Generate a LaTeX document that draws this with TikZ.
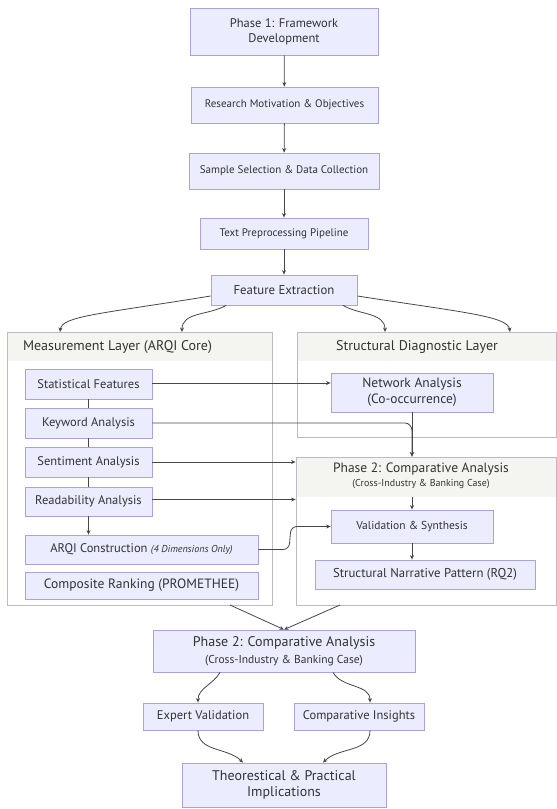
\documentclass[tikz,border=0pt]{standalone}
\usepackage{fontspec}
\setmainfont{PT Sans}
\usepackage{tikz}
\usetikzlibrary{arrows.meta,positioning}
\definecolor{mmfill}{RGB}{236,236,255}
\definecolor{mmline}{RGB}{172,160,222}
\definecolor{mmlayer}{RGB}{188,184,206}
\definecolor{mmhead}{RGB}{244,244,240}
\definecolor{mmedge}{RGB}{70,70,70}
\definecolor{mmtext}{RGB}{51,51,51}
\tikzstyle{arrow} = [line width=0.8pt,-{Stealth[length=4.5pt,width=4pt]},color=mmedge]
\tikzstyle{link} = [line width=0.8pt,color=mmedge]
\tikzstyle{flowbox} = [rectangle, draw=mmline, fill=mmfill, line width=0.8pt, text=mmtext, align=center, inner sep=0pt, font=\fontsize{12.5}{15}\selectfont]
\tikzstyle{layer} = [rectangle, draw=mmlayer, line width=0.8pt, inner sep=0pt]
\tikzstyle{layerhead} = [rectangle, fill=mmhead, inner sep=0pt]
\tikzstyle{layertitle} = [text=mmtext, inner sep=0pt, align=center, font=\fontsize{14}{16}\selectfont]

\begin{document}
\begin{tikzpicture}[x=1pt, y=-1pt]
    \useasboundingbox (0,0) rectangle (557,809);

    % Phase 1 chain
    \node[flowbox, minimum width=188pt, minimum height=47pt, font=\fontsize{12.5}{15}\selectfont] (p1) at (284,31.5) {Phase 1: Framework\\Development};
    \node[flowbox, minimum width=187pt, minimum height=36pt, font=\fontsize{11}{13}\selectfont] (rmo) at (284.5,105) {Research Motivation \& Objectives};
    \node[flowbox, minimum width=190pt, minimum height=36pt, font=\fontsize{11}{13}\selectfont] (ssdc) at (284,171) {Sample Selection \& Data Collection};
    \node[flowbox, minimum width=168pt, minimum height=31pt, font=\fontsize{11}{13}\selectfont] (tpp) at (284,233.5) {Text Preprocessing Pipeline};
    \node[flowbox, minimum width=146pt, minimum height=30pt, font=\fontsize{12.8}{15}\selectfont] (fe) at (284,290) {Feature Extraction};

    \draw[arrow] (p1) -- (rmo);
    \draw[arrow] (rmo) -- (ssdc);
    \draw[arrow] (ssdc) -- (tpp);
    \draw[arrow] (tpp) -- (fe);

    % Layers
    \node[layerhead, minimum width=265pt, minimum height=29pt] (meashead) at (139.5,346.5) {};
    \node[layer, minimum width=265pt, minimum height=273pt] (meas) at (139.5,468.5) {};
    \node[layertitle] (meastitle) at (117.5,347) {Measurement Layer (ARQI Core)};

    \node[layerhead, minimum width=259pt, minimum height=29pt] (structhead) at (426.5,346.5) {};
    \node[layer, minimum width=259pt, minimum height=105pt] (struct) at (426.5,384.5) {};
    \node[layertitle] (structtitle) at (417,347) {Structural Diagnostic Layer};

    \node[layerhead, minimum width=260pt, minimum height=40pt] (p2chead) at (426,477) {};
    \node[layer, minimum width=260pt, minimum height=148pt] (p2c) at (426,531) {};
    \node[layertitle, font=\fontsize{13.5}{15}\selectfont] (p2ctitle) at (421,476) {Phase 2: Comparative Analysis\\[-1pt]{\fontsize{10}{11}\selectfont (Cross-Industry \& Banking Case)}};

    % Feature extraction fan out
    \coordinate (m1) at (60,332);
    \coordinate (m2) at (182,332);
    \coordinate (s1) at (385,332);
    \coordinate (s2) at (510,332);
    \draw[arrow] ([yshift=-6pt]fe.west) .. controls (100,314) and (62,316) .. (m1);
    \draw[arrow] ([xshift=-58pt]fe.south) to[out=210,in=90] (m2);
    \draw[arrow] ([xshift=59pt]fe.south) to[out=-30,in=90] (s1);
    \draw[arrow] ([yshift=-6pt]fe.east) .. controls (460,312) and (508,316) .. (s2);

    % Measurement layer
    \node[flowbox, minimum width=127pt, minimum height=30pt] (stat) at (88.5,384) {Statistical Features};
    \node[flowbox, minimum width=127pt, minimum height=30pt] (kw) at (88.5,423) {Keyword Analysis};
    \node[flowbox, minimum width=127pt, minimum height=30pt] (sent) at (88.5,462) {Sentiment Analysis};
    \node[flowbox, minimum width=127pt, minimum height=29pt] (read) at (88.5,501.5) {Readability Analysis};
    \node[flowbox, minimum width=233pt, minimum height=29pt] (arqi) at (141.5,549.5) {ARQI Construction {\fontsize{10}{12}\selectfont\itshape (4 Dimensions Only)}};
    \node[flowbox, minimum width=233pt, minimum height=27pt, font=\fontsize{13.5}{15}\selectfont] (comp) at (141.5,585.5) {Composite Ranking (PROMETHEE)};

    \draw[link] (stat) -- (kw);
    \draw[link] (kw) -- (sent);
    \draw[link] (sent) -- (read);
    \draw[arrow] (read) -- (read.south |- arqi.north);

    % Structural diagnostic layer
    \node[flowbox, minimum width=162pt, minimum height=39pt, font=\fontsize{13.5}{16}\selectfont] (net) at (412,392.5) {Network Analysis\\(Co-occurrence)};

    % Phase 2 layer
    \node[flowbox, minimum width=162pt, minimum height=33pt, font=\fontsize{11.5}{13}\selectfont] (vs) at (412,526.5) {Validation \& Synthesis};
    \node[flowbox, minimum width=220pt, minimum height=29pt, font=\fontsize{12.8}{15}\selectfont] (snp) at (425,574.5) {Structural Narrative Pattern (RQ2)};

    % Cross links
    \draw[arrow] ([yshift=1pt]stat.east) -- ([yshift=1pt]stat.east -| net.west);
    \draw[arrow] (kw.east) -- (405,423) to[out=0,in=90] (412,431) -- (net.south |- p2c.north);
    \draw[arrow] (net.south) -- (net.south |- p2c.north);
    \draw[arrow] (sent.east) -- (sent.east -| p2c.west);
    \draw[arrow] ([yshift=2pt]read.east) -- ([yshift=2pt]read.east -| p2c.west);
    \draw[arrow, rounded corners=6pt] (arqi.east) -- (289,549.5) -- (291,526.5) -- (vs.west);
    \draw[arrow] (vs.north |- p2chead.south) -- (vs.north);
    \draw[arrow] (vs) -- (vs.south |- snp.north);

    % Phase 2 summary
    \node[flowbox, minimum width=262pt, minimum height=42pt, font=\fontsize{14}{17}\selectfont] (p2) at (284,651) {Phase 2: Comparative Analysis\\{\fontsize{11.5}{13}\selectfont (Cross-Industry \& Banking Case)}};
    \coordinate (mo) at (230,605);
    \coordinate (po) at (340,605);
    \draw[arrow] (mo) -- (p2.north);
    \draw[arrow] (po) -- (p2.north);

    % Outcomes
    \node[flowbox, minimum width=120pt, minimum height=27pt] (ev) at (203,716.5) {Expert Validation};
    \node[flowbox, minimum width=130pt, minimum height=27pt] (ci) at (359,716.5) {Comparative Insights};
    \node[flowbox, minimum width=204pt, minimum height=44pt, font=\fontsize{14}{16}\selectfont] (ti) at (284,785) {Theorestical \& Practical\\Implications};

    \draw[arrow] ([xshift=-64pt]p2.south) to[out=240,in=90] ([xshift=-5pt]ev.north);
    \draw[arrow] ([xshift=49pt]p2.south) to[out=-60,in=90] ([xshift=11pt]ci.north);
    \draw[arrow] ([xshift=-5pt]ev.south) to[out=-90,in=135] ([xshift=-41pt]ti.north);
    \draw[arrow] ([xshift=11pt]ci.south) to[out=-90,in=45] ([xshift=39pt]ti.north);
\end{tikzpicture}
\end{document}
